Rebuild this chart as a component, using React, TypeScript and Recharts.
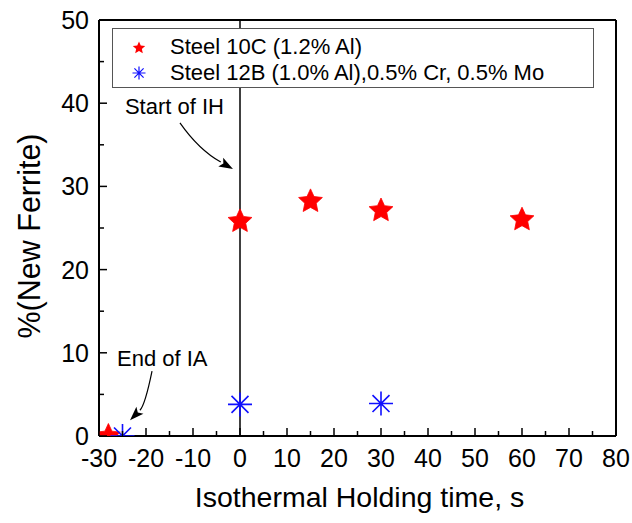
import React from 'react';
import {
  ScatterChart,
  Scatter,
  XAxis,
  YAxis,
  ReferenceLine,
  ReferenceDot,
  Legend,
} from 'recharts';

const FONT = '"Liberation Sans", Arial, sans-serif';

// holding time (s) and new ferrite fraction (%) for each steel
const timeSteel10C = [-28, 0, 15, 30, 60];
const ferriteSteel10C = [0, 25.8, 28.2, 27.1, 26.0];
const timeSteel12B = [-25, 0, 30];
const ferriteSteel12B = [0, 3.8, 3.9];

const xTicks = [-30, -25, -20, -15, -10, -5, 0, 5, 10, 15, 20, 25, 30, 35, 40, 45, 50, 55, 60, 65, 70, 75, 80];
const yTicks = [0, 5, 10, 15, 20, 25, 30, 35, 40, 45, 50];

const seriesNames = ['Steel 10C (1.2% Al)', 'Steel 12B (1.0% Al),0.5% Cr, 0.5% Mo'];

const steel10C = timeSteel10C.map((t, i) => ({ t, f: ferriteSteel10C[i] }));
const steel12B = timeSteel12B.map((t, i) => ({ t, f: ferriteSteel12B[i] }));

// arrow tips in data units, text / curve offsets in px from the tip
const notes = [
  { text: 'Start of IH', x: -1.5, y: 32.1, text_at: [-108, -55], from: [-53, -46], ctrl: [-34, -19] },
  { text: 'End of IA', x: -23.4, y: 1.9, text_at: [-13, -54], from: [22, -49], ctrl: [15, -15] },
];

function starPath(cx: number, cy: number, R: number, r: number) {
  let d = '';
  for (let i = 0; i < 10; i++) {
    const rad = i % 2 === 0 ? R : r;
    const a = -Math.PI / 2 + (i * Math.PI) / 5;
    d += (i === 0 ? 'M' : 'L') + (cx + rad * Math.cos(a)).toFixed(2) + ',' + (cy + rad * Math.sin(a)).toFixed(2);
  }
  return d + 'Z';
}

function asteriskPath(cx: number, cy: number, R: number) {
  let d = '';
  for (let i = 0; i < 4; i++) {
    const a = (i * Math.PI) / 4;
    const dx = R * Math.cos(a);
    const dy = R * Math.sin(a);
    d += `M${cx - dx},${cy - dy}L${cx + dx},${cy + dy}`;
  }
  return d;
}

const Star = (props: any) => (
  <path d={starPath(props.cx, props.cy, 12.5, 6)} fill="#ff0000" stroke="#ff0000" strokeWidth={0.8} strokeLinejoin="round" />
);

const Asterisk = (props: any) => (
  <path d={asteriskPath(props.cx, props.cy, 12)} stroke="#1010ff" strokeWidth={1.6} fill="none" />
);

const XTick = (props: any) => {
  const { x, y, payload } = props;
  const major = payload.value % 10 === 0;
  return (
    <g>
      <line x1={x} y1={y} x2={x} y2={y - (major ? 8 : 5)} stroke="#000" strokeWidth={1.5} />
      {major && (
        <text x={x} y={y + 31} textAnchor="middle" fontSize={25} fontFamily={FONT} fill="#000">
          {payload.value}
        </text>
      )}
    </g>
  );
};

const YTick = (props: any) => {
  const { x, y, payload } = props;
  const major = payload.value % 10 === 0;
  return (
    <g>
      <line x1={x} y1={y} x2={x + (major ? 8 : 5)} y2={y} stroke="#000" strokeWidth={1.5} />
      {major && (
        <text x={x - 10} y={y + 9} textAnchor="end" fontSize={25} fontFamily={FONT} fill="#000">
          {payload.value}
        </text>
      )}
    </g>
  );
};

const Note = (note: (typeof notes)[number]) => (props: any) => {
  const { cx, cy } = props;
  const [tx, ty] = note.text_at;
  const [fx, fy] = note.from;
  const [qx, qy] = note.ctrl;
  // arrowhead along the end tangent of the curve
  const ang = Math.atan2(-qy, -qx);
  const len = 14;
  const w = 5;
  const bx = cx - len * Math.cos(ang);
  const by = cy - len * Math.sin(ang);
  const px = -Math.sin(ang) * w;
  const py = Math.cos(ang) * w;
  return (
    <g>
      <text x={cx + tx} y={cy + ty} fontSize={22} fontFamily={FONT} fill="#000">
        {note.text}
      </text>
      <path
        d={`M${cx + fx},${cy + fy}Q${cx + qx},${cy + qy} ${bx},${by}`}
        stroke="#000"
        strokeWidth={1.2}
        fill="none"
      />
      <path d={`M${cx},${cy}L${bx + px},${by + py}L${bx + 3 * Math.cos(ang)},${by + 3 * Math.sin(ang)}L${bx - px},${by - py}Z`} fill="#000" />
    </g>
  );
};

const renderLegend = (props: any) => {
  const payload = props.payload || [];
  return (
    <div
      style={{
        width: 482,
        height: 60,
        boxSizing: 'border-box',
        border: '1px solid #555',
        background: '#fff',
        paddingTop: 5,
        fontFamily: FONT,
        fontSize: 22,
        color: '#000',
      }}
    >
      {payload.map((entry: any, i: number) => (
        <div key={entry.value} style={{ height: 26, lineHeight: '26px', display: 'flex', alignItems: 'center' }}>
          <svg width={57} height={26} style={{ flex: 'none' }}>
            {i === 0 ? (
              <path d={starPath(26, 14, 6.5, 3)} fill="#ff0000" />
            ) : (
              <path d={asteriskPath(26, 13, 6.5)} stroke="#1010ff" strokeWidth={1.2} fill="none" />
            )}
          </svg>
          <span style={{ whiteSpace: 'nowrap' }}>{entry.value}</span>
        </div>
      ))}
    </div>
  );
};

const XTitle = (props: any) => {
  const { x, y, width } = props.viewBox;
  return (
    <text x={x + width / 2 + 2} y={y + 71} textAnchor="middle" fontSize={28.5} fontFamily={FONT} fill="#000">
      Isothermal Holding time, s
    </text>
  );
};

const YTitle = (props: any) => {
  const { x, y, width, height } = props.viewBox;
  const cx = x + width - 70;
  const cy = y + height / 2 + 8;
  return (
    <text
      x={cx}
      y={cy}
      transform={`rotate(-90 ${cx} ${cy})`}
      textAnchor="middle"
      dominantBaseline="central"
      fontSize={30.5}
      fontFamily={FONT}
      fill="#000"
    >
      %(New Ferrite)
    </text>
  );
};

export default function App() {
  return (
    <div style={{ position: 'absolute', left: 0, top: 0, background: '#fff' }}>
      <ScatterChart width={632} height={523} margin={{ top: 20, right: 16, bottom: 86, left: 98 }}>
        <XAxis
          type="number"
          dataKey="t"
          domain={[-30, 80]}
          ticks={xTicks}
          interval={0}
          allowDataOverflow
          height={1}
          tickSize={0}
          tickMargin={0}
          tickLine={false}
          axisLine={{ stroke: '#000', strokeWidth: 2 }}
          tick={<XTick />}
          label={{ content: XTitle }}
        />
        <YAxis
          type="number"
          dataKey="f"
          domain={[0, 50]}
          ticks={yTicks}
          interval={0}
          allowDataOverflow
          width={1}
          tickSize={0}
          tickMargin={0}
          tickLine={false}
          axisLine={{ stroke: '#000', strokeWidth: 2 }}
          tick={<YTick />}
          label={{ content: YTitle }}
        />
        <ReferenceLine y={50} stroke="#000" strokeWidth={2} />
        <ReferenceLine x={80} stroke="#000" strokeWidth={2} />
        <ReferenceLine x={0} stroke="#000" strokeWidth={1.5} />
        <Legend
          layout="vertical"
          align="center"
          verticalAlign="middle"
          content={renderLegend}
          wrapperStyle={{ left: 112, top: 28, width: 482, height: 60 }}
        />
        {notes.map((n) => (
          <ReferenceDot key={n.text} x={n.x} y={n.y} r={0} shape={Note(n)} />
        ))}
        <Scatter name={seriesNames[0]} data={steel10C} fill="#ff0000" shape={Star} isAnimationActive={false} />
        <Scatter name={seriesNames[1]} data={steel12B} fill="#1010ff" shape={Asterisk} isAnimationActive={false} />
      </ScatterChart>
    </div>
  );
}
